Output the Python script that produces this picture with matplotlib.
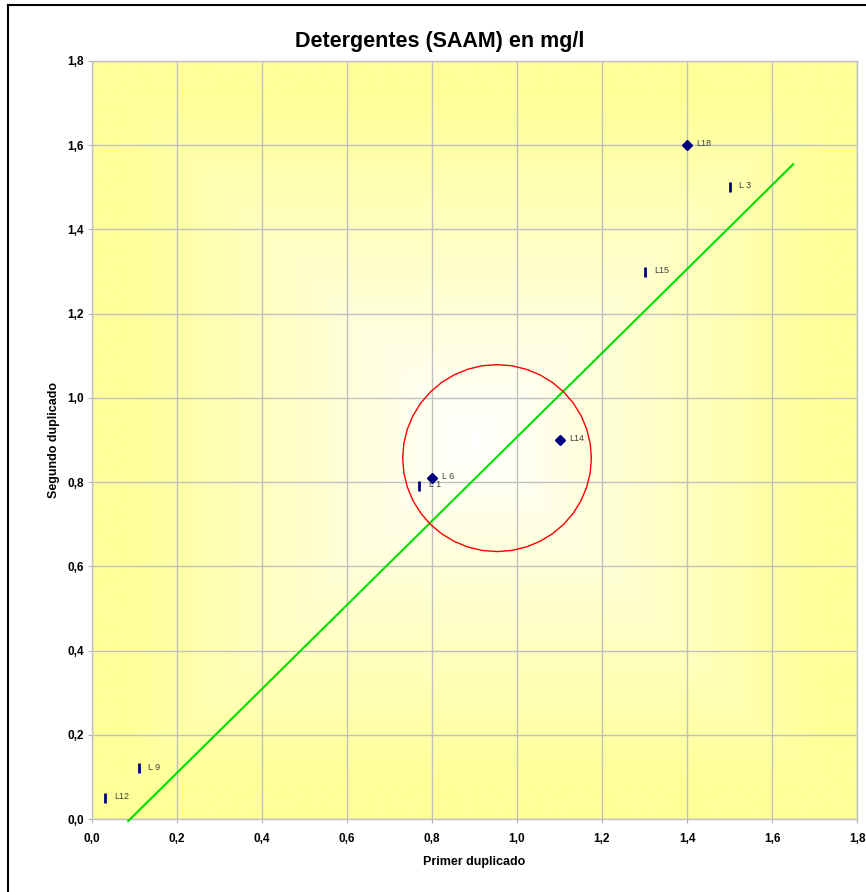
import numpy as np
import matplotlib.pyplot as plt
from matplotlib.lines import Line2D

plt.rcParams['font.family'] = ['Liberation Sans', 'DejaVu Sans']

# lab results: first and second duplicate (mg/l)
labs = ['L12', 'L 9', 'L 1', 'L 6', 'L14', 'L15', 'L18', 'L 3']
primer = [0.03, 0.11, 0.77, 0.80, 1.10, 1.30, 1.40, 1.50]
segundo = [0.05, 0.12, 0.79, 0.81, 0.90, 1.30, 1.60, 1.50]
diamante = [False, False, False, True, True, False, True, False]

# reference line and tolerance circle
linea_x = [0.085, 1.65]
linea_y = [-0.005, 1.555]
centro = (0.953, 0.857)
radio = 0.222

ticks = [0.0, 0.2, 0.4, 0.6, 0.8, 1.0, 1.2, 1.4, 1.6, 1.8]
tick_labels = ['0,0', '0,2', '0,4', '0,6', '0,8', '1,0', '1,2', '1,4', '1,6', '1,8']

fig = plt.figure(figsize=(8.66, 8.92), dpi=100)
ax = fig.add_axes([92 / 866, 73 / 892, 765 / 866, 758 / 892])

# rectangular "from centre" gradient, white to light yellow
n = 400
u = np.linspace(-1, 1, n)
U, V = np.meshgrid(u, u)
t = np.clip(np.maximum(np.abs(U), np.abs(V)) / 0.9, 0, 1)
blanco = np.array([1.0, 1.0, 1.0])
amarillo = np.array([1.0, 1.0, 0.6])
img = blanco[None, None, :] + (amarillo - blanco)[None, None, :] * t[..., None]
ax.imshow(img, extent=[0, 1.8, 0, 1.8], aspect='auto', zorder=0, interpolation='bilinear')

ax.set_xlim(0, 1.8)
ax.set_ylim(0, 1.8)
ax.set_xticks(ticks)
ax.set_yticks(ticks)
ax.set_xticklabels(tick_labels, fontsize=8.5, fontweight='bold')
ax.set_yticklabels(tick_labels, fontsize=8.5, fontweight='bold')
ax.tick_params(direction='out', length=3, color='#b0b0b0')
ax.tick_params(axis='y', pad=3)
ax.tick_params(axis='x', pad=7)
ax.grid(True, color='#c0c0c0', linewidth=1.0, zorder=1)
ax.set_axisbelow(True)
for s in ax.spines.values():
    s.set_color('#c0c0c0')
    s.set_linewidth(1.0)

ax.plot(linea_x, linea_y, color='#00e000', linewidth=1.5, zorder=3, clip_on=False)

ang = np.linspace(0, 2 * np.pi, 41)
ax.plot(centro[0] + radio * np.cos(ang), centro[1] + radio * np.sin(ang),
        color='red', linewidth=1.0, zorder=3)

for lab, x, y, d in zip(labs, primer, segundo, diamante):
    if d:
        ax.plot(x, y, marker='D', markersize=5, color='#000080', zorder=4)
    else:
        ax.plot(x, y, marker='|', markersize=7, markeredgewidth=2, color='#000080', zorder=4)
    ax.annotate(lab, (x, y), xytext=(7, 1), textcoords='offset points',
                fontsize=6.5, color='#404040', va='center', ha='left', zorder=5)

ax.set_xlabel('Primer duplicado', fontsize=9, fontweight='bold', labelpad=8)
ax.set_ylabel('Segundo duplicado', fontsize=9, fontweight='bold', labelpad=5)

fig.text(440 / 866, 1 - 42 / 892, 'Detergentes (SAAM) en mg/l', fontsize=15.5,
         fontweight='bold', ha='center', va='center')

# outer chart frame
fig.add_artist(Line2D([8 / 866, 8 / 866], [-0.01, 1 - 5 / 892], color='black', linewidth=1.5))
fig.add_artist(Line2D([8 / 866, 1.01], [1 - 5 / 892, 1 - 5 / 892], color='black', linewidth=1.5))

fig.savefig('out.png', dpi=100)
